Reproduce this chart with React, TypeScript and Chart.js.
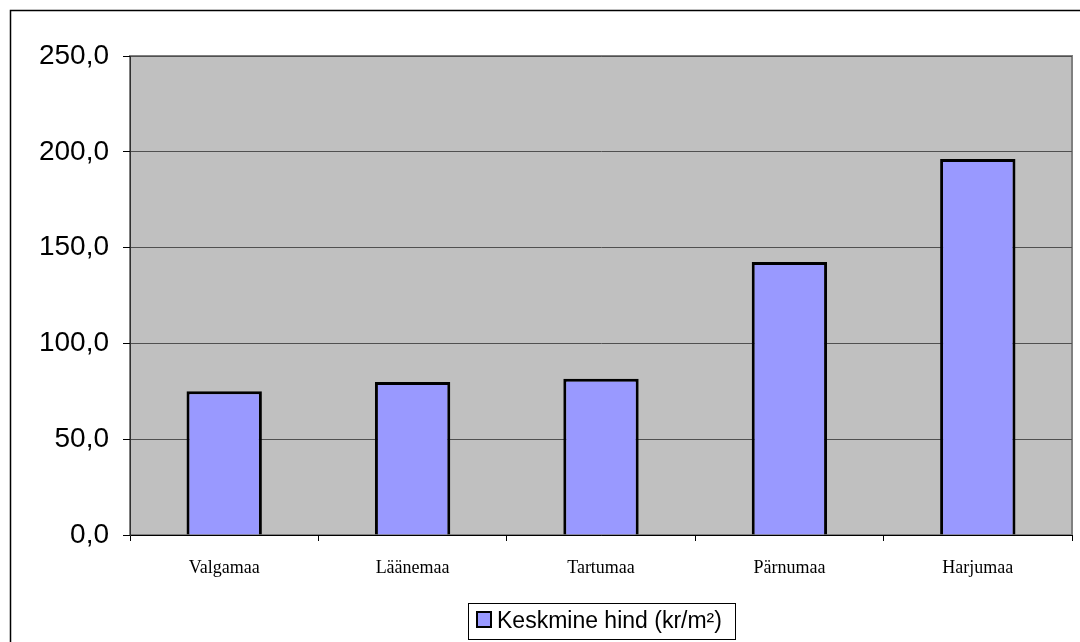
import React, { useEffect, useRef } from "react";
import { Chart, registerables } from "chart.js";

Chart.register(...registerables);

const categories = ["Valgamaa", "Läänemaa", "Tartumaa", "Pärnumaa", "Harjumaa"];
const seriesLabel = "Keskmine hind (kr/m²)";
const values = [75.0, 79.9, 81.5, 142.5, 196.3];
const yTicks = [0, 50, 100, 150, 200, 250];

const W = 1080;
const H = 642;

const decor = {
  id: "decor",
  beforeDraw(chart: any) {
    const { ctx, chartArea: a } = chart;
    ctx.save();
    ctx.fillStyle = "#ffffff";
    ctx.fillRect(0, 0, W, H);
    // outer border
    ctx.strokeStyle = "#000";
    ctx.lineWidth = 1.5;
    ctx.beginPath();
    ctx.moveTo(10.5, H + 5);
    ctx.lineTo(10.5, 10.5);
    ctx.lineTo(W + 5, 10.5);
    ctx.stroke();
    // plot background
    ctx.fillStyle = "#C0C0C0";
    ctx.fillRect(a.left, a.top, a.right - a.left, a.bottom - a.top);
    ctx.strokeStyle = "#808080";
    ctx.lineWidth = 2;
    ctx.strokeRect(a.left, a.top, a.right - a.left, a.bottom - a.top);
    ctx.restore();
  },
  afterDraw(chart: any) {
    const { ctx } = chart;
    ctx.save();
    // legend box
    const bx = 468.5, by = 603.5, bw = 267, bh = 36;
    ctx.fillStyle = "#ffffff";
    ctx.fillRect(bx, by, bw, bh);
    ctx.strokeStyle = "#000";
    ctx.lineWidth = 1;
    ctx.strokeRect(bx, by, bw, bh);
    ctx.fillStyle = "#9999FF";
    ctx.fillRect(477, 612, 14, 15);
    ctx.lineWidth = 2;
    ctx.strokeRect(477, 612, 14, 15);
    ctx.fillStyle = "#000";
    ctx.font = "23px Arial, 'Liberation Sans', sans-serif";
    ctx.textBaseline = "middle";
    ctx.textAlign = "left";
    ctx.fillText(seriesLabel, 497, 622);
    ctx.restore();
  },
};

export default function App() {
  const ref = useRef<HTMLCanvasElement | null>(null);
  useEffect(() => {
    if (!ref.current) return;
    const chart = new Chart(ref.current, {
      type: "bar",
      data: {
        labels: categories,
        datasets: [
          {
            label: seriesLabel,
            data: values,
            backgroundColor: "#9999FF",
            borderColor: "#000000",
            borderWidth: 3,
            barPercentage: 0.4,
            categoryPercentage: 1,
          },
        ],
      },
      options: {
        responsive: false,
        animation: false,
        devicePixelRatio: 1,
        layout: { padding: { top: 56, right: 8, left: 0, bottom: 0 } },
        plugins: { legend: { display: false }, tooltip: { enabled: false } },
        scales: {
          x: {
            grid: {
              offset: true,
              drawOnChartArea: false,
              drawTicks: true,
              tickLength: 6,
              tickColor: "#000",
            },
            border: { display: true, color: "#000", width: 1 },
            ticks: {
              color: "#000",
              padding: 16,
              font: { family: "'Times New Roman', 'Liberation Serif', serif", size: 18 },
              maxRotation: 0,
            },
            afterFit: (s: any) => {
              s.height = 107;
            },
          },
          y: {
            min: 0,
            max: 250,
            afterBuildTicks: (s: any) => {
              s.ticks = yTicks.map((v) => ({ value: v }));
            },
            grid: {
              color: "#505050",
              lineWidth: 1,
              drawTicks: true,
              tickLength: 7,
              tickColor: "#000",
            },
            border: { display: true, color: "#303030", width: 1 },
            ticks: {
              color: "#000",
              padding: 14,
              font: { family: "Arial, 'Liberation Sans', sans-serif", size: 28 },
              callback: (v: any) => Number(v).toFixed(1).replace(".", ","),
            },
            afterFit: (s: any) => {
              s.width = 130;
            },
          },
        },
      },
      plugins: [decor],
    });
    return () => chart.destroy();
  }, []);
  return (
    <div style={{ position: "absolute", left: 0, top: 0, width: W, height: H }}>
      <canvas ref={ref} width={W} height={H} style={{ display: "block" }} />
    </div>
  );
}
